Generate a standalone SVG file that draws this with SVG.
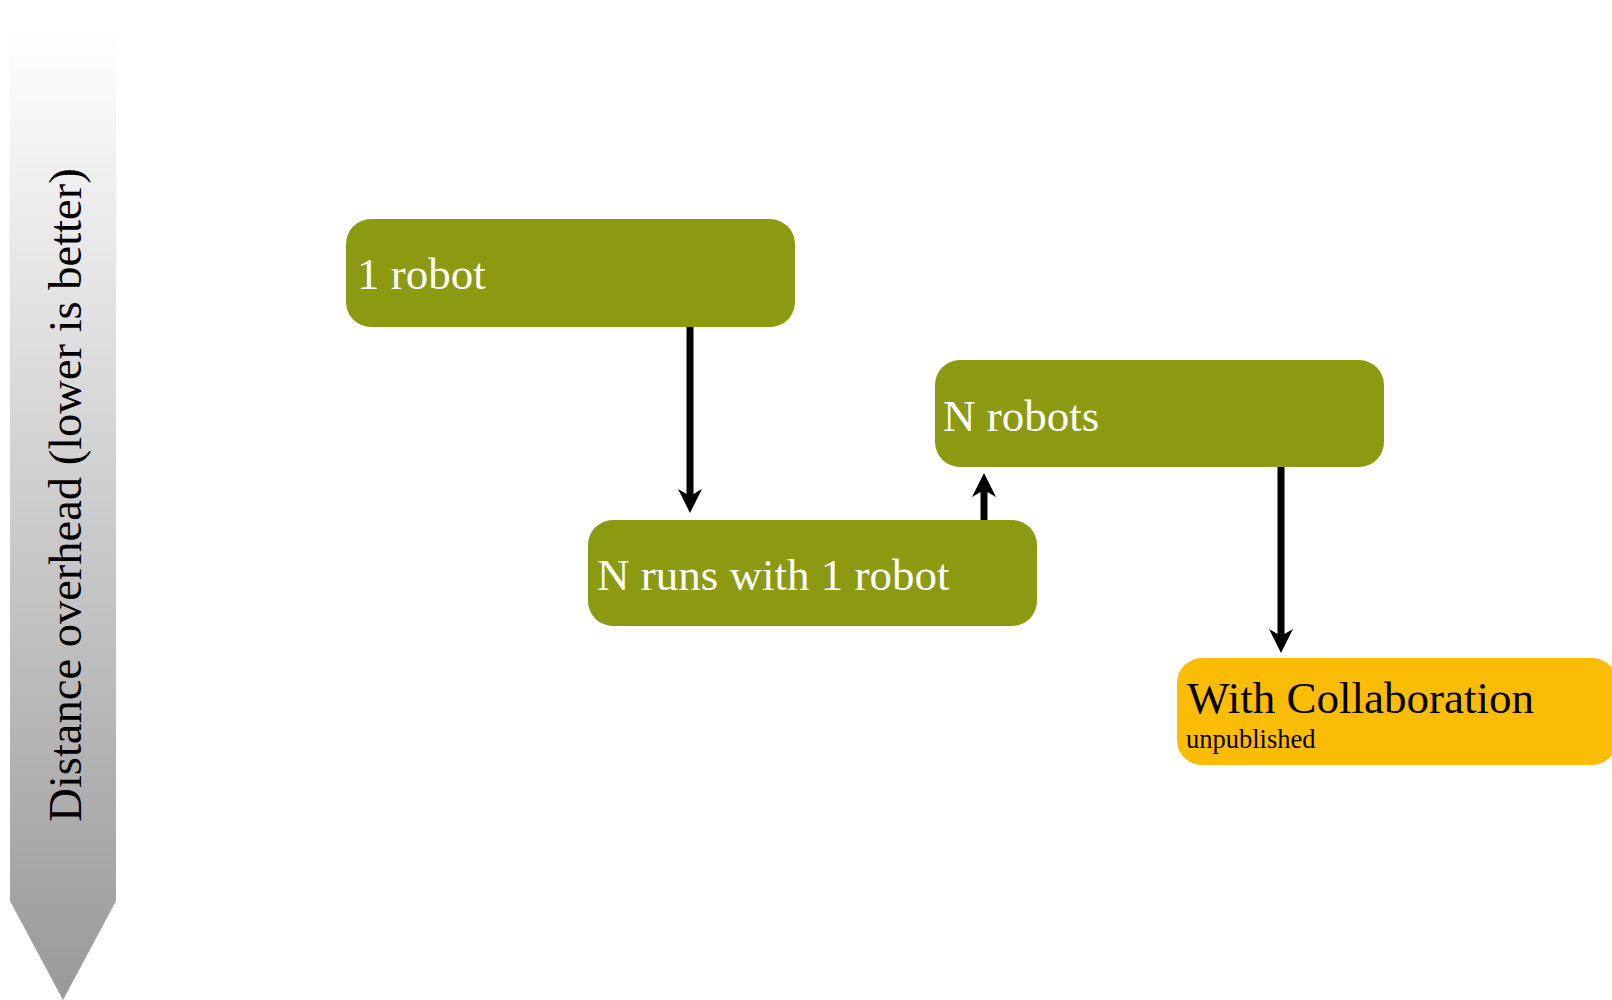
<svg xmlns="http://www.w3.org/2000/svg" width="1612" height="1000" viewBox="0 0 1612 1000">
<style>
.box{fill:#8b9a11;}
.collab{fill:#fbbc05;}
.lbl{font-family:"Liberation Serif","Times New Roman",serif;font-size:45px;fill:#ffffff;}
.dark{fill:#000000;}
.axis{font-size:46.5px;}
.small{font-size:26.5px;}
.conn{stroke:#000;stroke-width:7;fill:none;marker-end:url(#head);}
</style>
<defs>
<linearGradient id="grad" x1="0" y1="30" x2="0" y2="1000" gradientUnits="userSpaceOnUse">
<stop offset="0" stop-color="#ffffff"/>
<stop offset="1" stop-color="#999999"/>
</linearGradient>
<marker id="head" markerUnits="userSpaceOnUse" viewBox="0 0 24 24" refX="7" refY="12" markerWidth="24" markerHeight="24" orient="auto">
<path d="M0,0 L24,12 L0,24 L7,12 z" fill="#000"/>
</marker>
</defs>
<g id="axis">
<polygon points="10,30 116,30 116,901 63,1000 10,901" fill="url(#grad)"/>
<text class="lbl dark axis" transform="translate(81,495) rotate(-90)" text-anchor="middle">Distance overhead (lower is better)</text>
</g>
<g id="connectors">
<line class="conn" x1="690" y1="327" x2="690" y2="496"/>
<line class="conn" x1="984" y1="520" x2="984" y2="490"/>
<line class="conn" x1="1281" y1="467" x2="1281" y2="636"/>
</g>
<g id="node-1robot">
<rect class="box" x="346" y="219" width="449" height="108" rx="25"/>
<text class="lbl" x="357" y="289">1 robot</text>
</g>
<g id="node-nruns">
<rect class="box" x="588" y="520" width="449" height="106" rx="25"/>
<text class="lbl" x="597" y="590">N runs with 1 robot</text>
</g>
<g id="node-nrobots">
<rect class="box" x="935" y="360" width="449" height="107" rx="25"/>
<text class="lbl" x="943" y="431">N robots</text>
</g>
<g id="node-collab">
<rect class="collab" x="1177" y="658" width="440" height="107" rx="25"/>
<text class="lbl dark" x="1187" y="713">With Collaboration</text>
<text class="lbl dark small" x="1186" y="748">unpublished</text>
</g>
</svg>
